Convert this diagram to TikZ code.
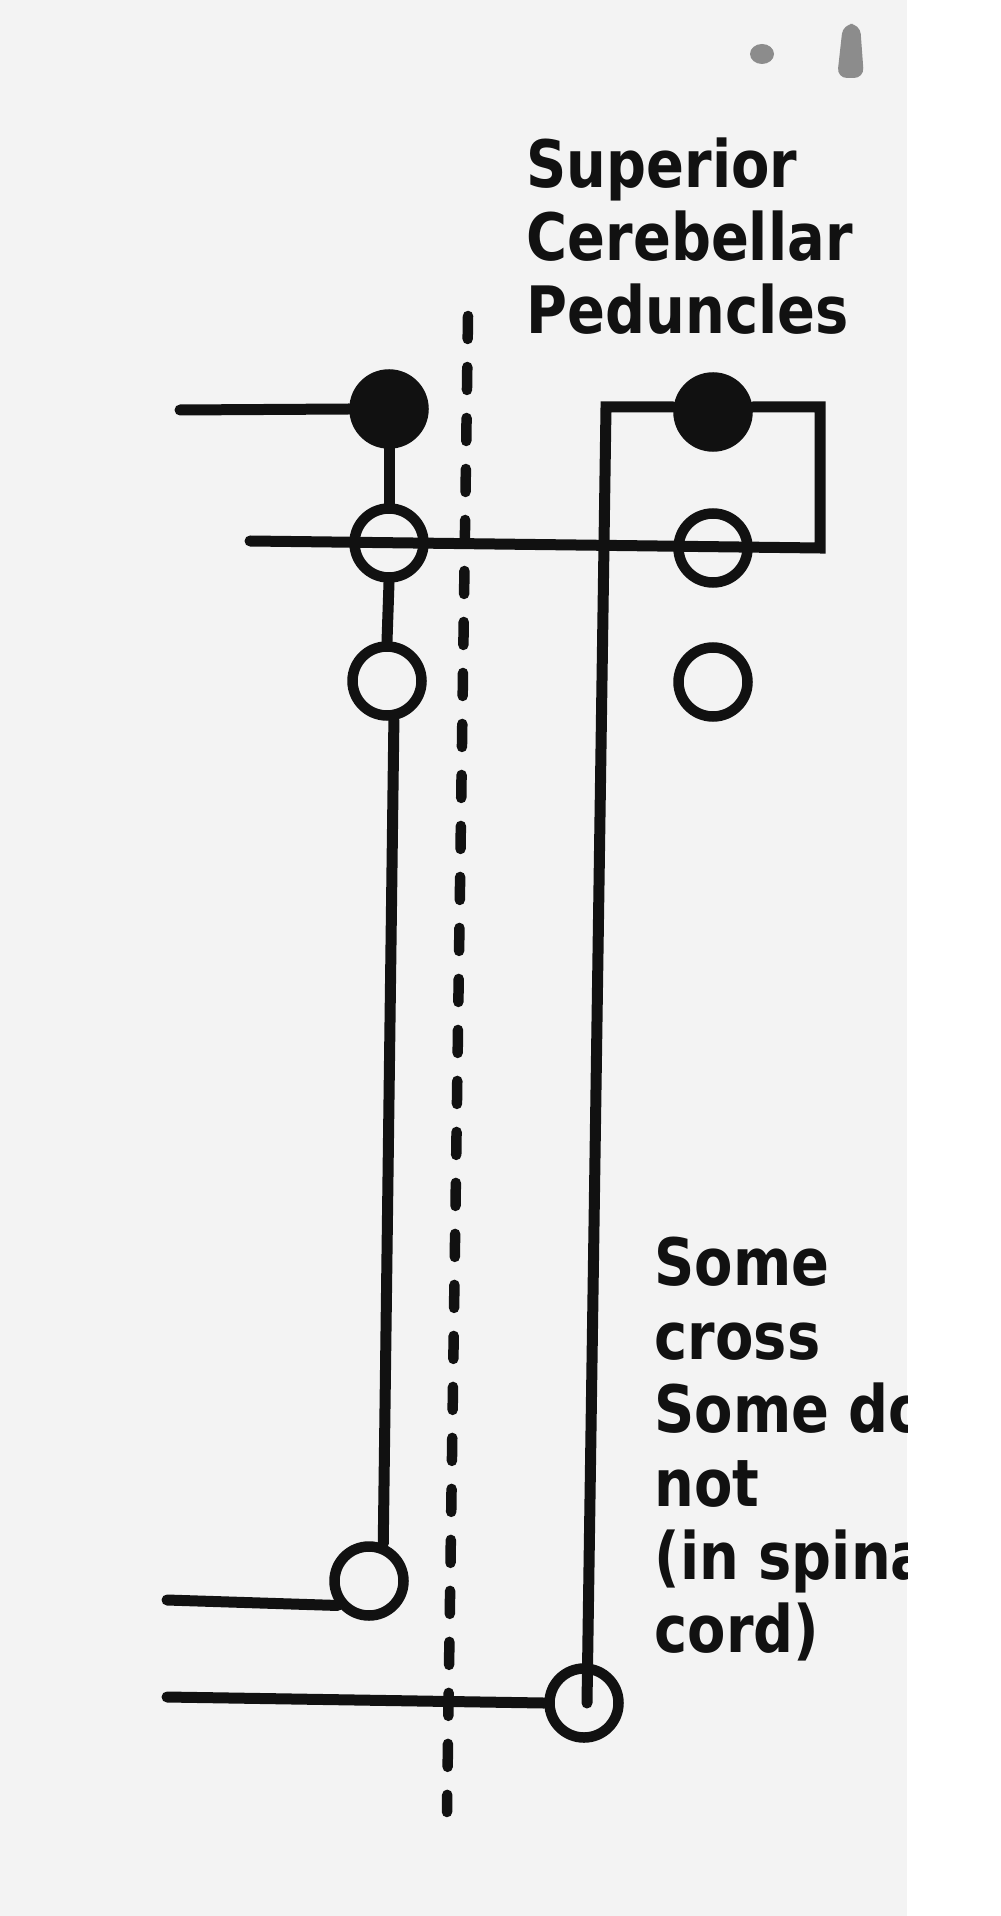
\documentclass[tikz,border=0pt]{standalone}
\usepackage{fontspec}
\newfontfamily\labfont{DejaVu Sans}[FakeStretch=0.855]
\definecolor{bg}{HTML}{F3F3F3}
\definecolor{ink}{HTML}{111111}
\begin{document}
\begin{tikzpicture}[x=0.1mm,y=-0.1mm,
  wire/.style={draw=ink, line width=1.1mm, line cap=round, line join=miter},
  midline/.style={draw=ink, line width=1.05mm, line cap=round, dash pattern=on 2.3mm off 2.8mm},
  ring/.style={circle, draw=ink, line width=1.05mm, minimum size=6.9mm, inner sep=0pt},
  soma/.style={circle, draw=ink, fill=ink, line width=1.0mm, minimum size=6.95mm, inner sep=0pt},
  lab/.style={font=\labfont\bfseries\fontsize{18.6pt}{21pt}\selectfont, text=ink, anchor=base west, inner sep=0pt}]
% background
\useasboundingbox (0,0) rectangle (1000,1916);
\fill[white] (0,0) rectangle (1000,1916);
\fill[bg] (0,0) rectangle (907,1916);
% scan specks
\fill[black!45] (762,54) ellipse [x radius=12, y radius=10];
\fill[black!45, rounded corners=1mm] (843,24) -- (860,24) -- (864,78) -- (837,78) -- cycle;
% midline
\coordinate (dtop) at (468,316);
\coordinate (dbot) at (447,1812);
\draw[midline] (dtop) -- (dbot);
% cells
\node[soma] (LF) at (389,409) {};
\node[soma] (RF) at (713,412) {};
\node[ring] (LO1) at (389,543) {};
\node[ring] (RO1) at (713,548) {};
\node[ring] (LO2) at (387,681) {};
\node[ring] (RO2) at (713,682) {};
\node[ring] (LB) at (369,1581) {};
\node[ring] (RB) at (584,1703) {};
% free ends and corners
\coordinate (inLF) at (180,410);
\coordinate (hL) at (250,541);
\coordinate (hR) at (820,548);
\coordinate (hT) at (820,407);
\coordinate (cTL) at (606,407);
\coordinate (inLB) at (167,1600);
\coordinate (inRB) at (167,1697);
% connectors
\draw[wire] (inLF) -- (LF.west);
\draw[wire] (LF.south) -- (LO1.north);
\draw[wire] (LO1.south) -- (LO2.north);
\draw[wire] (LO2.-80) -- (LB.69);
\draw[wire] (hL) -- (hR) -- (hT) -- (RF.east |- hT);
\draw[wire] (RF.west |- cTL) -- (cTL) -- ([xshift=0.3mm]RB.center);
\draw[wire] (inLB) -- (LB.218);
\draw[wire] (inRB) -- (RB.west);
% labels
\node[lab] (t1) at (526,188) {Superior};
\node[lab] (t2) at (526,261) {Cerebellar};
\node[lab] (t3) at (526,334) {Peduncles};
\begin{scope}
\clip (0,0) rectangle (907,1916);
\node[lab] (b1) at (654,1285) {Some};
\node[lab] (b2) at (654,1359) {cross};
\node[lab] (b3) at (654,1432) {Some do};
\node[lab] (b4) at (654,1506) {not};
\node[lab] (b5) at (654,1579) {(in spinal};
\node[lab] (b6) at (654,1652) {cord)};
\end{scope}
\end{tikzpicture}
\end{document}
